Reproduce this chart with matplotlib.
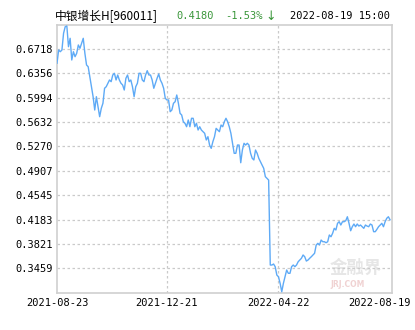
import matplotlib
matplotlib.use("Agg")
import matplotlib.pyplot as plt
import matplotlib.transforms as mtransforms
import numpy as np

# net value series
nav_a = [0.6504, 0.6701, 0.6676, 0.6701, 0.6949, 0.7047, 0.7058, 0.6750, 0.6875, 0.6553,
         0.6676, 0.6602, 0.6652, 0.6776, 0.6727, 0.6801, 0.6875, 0.6652, 0.6479, 0.6453,
         0.6305, 0.6156, 0.6008, 0.5810, 0.6008, 0.5859, 0.5711, 0.5835, 0.5910, 0.6133,
         0.6156, 0.6207, 0.6256, 0.6231, 0.6330, 0.6355, 0.6256, 0.6330, 0.6256, 0.6207,
         0.6182, 0.6107, 0.6281, 0.6330, 0.6231, 0.6256, 0.6156, 0.6008, 0.6156, 0.6207,
         0.6355, 0.6355, 0.6256]
nav_b = [0.6231, 0.6330, 0.6394, 0.6330, 0.6330, 0.6256, 0.6133, 0.6207, 0.6281, 0.6345,
         0.6256, 0.6207, 0.6133, 0.5984, 0.5959, 0.5959, 0.5785, 0.5810, 0.5910, 0.5933,
         0.6033, 0.5910, 0.5761, 0.5736, 0.5636, 0.5613, 0.5562, 0.5662, 0.5562, 0.5687,
         0.5687, 0.5562, 0.5613, 0.5513, 0.5562, 0.5513, 0.5488, 0.5464, 0.5365, 0.5414,
         0.5290, 0.5241, 0.5339, 0.5414, 0.5538, 0.5513, 0.5488, 0.5587, 0.5562, 0.5636]
nav_c = [0.5687, 0.5636, 0.5562, 0.5464, 0.5316, 0.5167, 0.5167, 0.5290, 0.5290, 0.5027,
         0.5216, 0.5316, 0.5290, 0.5316, 0.5290, 0.5167, 0.5093, 0.5068, 0.5216, 0.5167,
         0.5093, 0.5042, 0.4993, 0.4944, 0.4820, 0.4796, 0.4770, 0.3508, 0.3508, 0.3523,
         0.3483, 0.3359, 0.3334, 0.3236, 0.3111, 0.3236, 0.3334, 0.3434, 0.3385, 0.3385,
         0.3483, 0.3508, 0.3483, 0.3508, 0.3557, 0.3582, 0.3608, 0.3657, 0.3631]
nav_d = [0.3567, 0.3582, 0.3608, 0.3631, 0.3657, 0.3682, 0.3805, 0.3830, 0.3805, 0.3879,
         0.3854, 0.3854, 0.3839, 0.3854, 0.3954, 0.3928, 0.3979, 0.4053, 0.4028, 0.4127,
         0.4151, 0.4102, 0.4151, 0.4151, 0.4166, 0.4225, 0.4127, 0.4017, 0.4077, 0.4117,
         0.4077, 0.4117, 0.4087, 0.4102, 0.4077, 0.4053, 0.4102, 0.4087, 0.4077, 0.4117,
         0.4102, 0.4003, 0.4003, 0.4038, 0.4077, 0.4102, 0.4127, 0.4077, 0.4151, 0.4202,
         0.4225, 0.4180]
nav = nav_a + nav_b + nav_c + nav_d

date_labels = ["2021-08-23", "2021-12-21", "2022-04-22", "2022-08-19"]
date_idx = [0, 67, 135, 203]
y_ticks = [0.3459, 0.3821, 0.4183, 0.4545, 0.4907, 0.5270, 0.5632, 0.5994, 0.6356, 0.6718]
y_min, y_max = 0.3097, 0.7080

fund_name = "中银增长H[960011]"
last_nav = "0.4180"
change = "-1.53%"
arrow = "↓"
stamp = "2022-08-19 15:00"

GRID = "#cacaca"
GREEN = "#3a963a"
MONO = ["DejaVu Sans Mono", "Noto Sans CJK SC"]

fig = plt.figure(figsize=(4.15, 3.3), dpi=100)
ax = fig.add_axes([57 / 415, 1 - 292.7 / 330, 335 / 415, (292.7 - 24.5) / 330])

x = np.arange(len(nav))
ax.plot(x, nav, color="#5eaaf6", lw=1.0, zorder=3)

ax.set_xlim(0, 204.2)
ax.set_ylim(y_min, y_max)

ax.set_yticks(y_ticks)
ax.set_yticklabels(["%.4f" % v for v in y_ticks], family=MONO, fontsize=7.5)
ax.set_xticks(date_idx)
ax.set_xticklabels(date_labels, family=MONO, fontsize=7.5)
ax.tick_params(length=0, pad=3, colors="black")
ax.tick_params(axis="x", pad=4)

# last date label is pushed inside the picture
lab = ax.get_xticklabels()[-1]
lab.set_transform(lab.get_transform() + mtransforms.ScaledTranslation(-0.11, 0, fig.dpi_scale_trans))

ax.yaxis.grid(True, color=GRID, lw=0.9, linestyle=(0, (2, 2)))
for i in date_idx[1:-1]:
    ax.axvline(i, color=GRID, lw=0.9, linestyle=(0, (2, 2)), zorder=1)
ax.set_axisbelow(True)

for s in ax.spines.values():
    s.set_color("#cfcfcf")
    s.set_linewidth(1.2)

# faint watermark
ax.text(0.815, 0.075, "金融界", transform=ax.transAxes, family=["Noto Sans CJK SC"],
        fontsize=12.5, fontweight="bold", color="#e6e6e6", zorder=0)
ax.text(0.815, 0.02, "JRJ.COM", transform=ax.transAxes, family=["DejaVu Sans"],
        fontsize=5.5, fontweight="bold", color="#f0d2d2", zorder=0)

ty = 1 - 16 / 330
fig.text(55 / 415, ty, fund_name, family=["Noto Sans CJK SC", "DejaVu Sans"], fontsize=8.5, va="center")
fig.text(176 / 415, ty, last_nav, family=MONO, fontsize=7.5, color=GREEN, va="center")
fig.text(225 / 415, ty, change, family=MONO, fontsize=7.5, color=GREEN, va="center")
fig.text(265 / 415, ty, arrow, family=["DejaVu Sans"], fontsize=9, color=GREEN, va="center")
fig.text(290 / 415, ty, stamp, family=MONO, fontsize=7.5, va="center")

fig.savefig("out.png", dpi=100)
